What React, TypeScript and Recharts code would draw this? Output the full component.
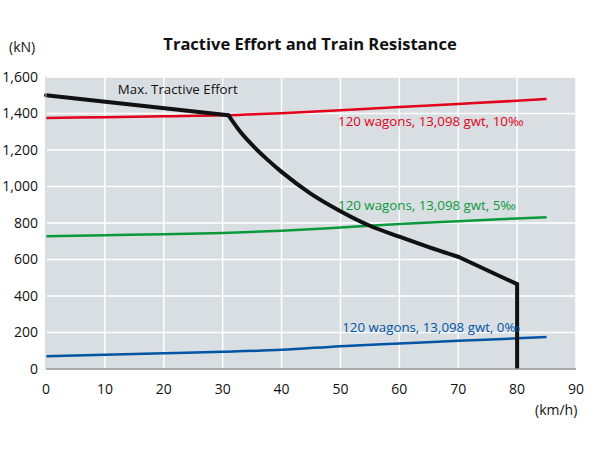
import React from 'react';
import { LineChart, Line, XAxis, YAxis, CartesianGrid, ReferenceDot } from 'recharts';

// speed in km/h, force in kN
const speedTicks = [0, 10, 20, 30, 40, 50, 60, 70, 80, 90];
const forceTicks = [0, 200, 400, 600, 800, 1000, 1200, 1400, 1600];

// max tractive effort: constant part, hyperbolic part, limit at 80 km/h
const constSpeed = [0, 31];
const constForce = [1500, 1390];
const curveSpeed = [31, 33, 35, 37.5, 40, 45, 50, 55, 60, 65, 70];
const curveForce = [1390, 1300, 1228, 1150, 1080, 960, 865, 785, 725, 668, 615];
const limitSpeed = [70, 80, 80];
const limitForce = [615, 465, 0];

const resistanceSpeed = [0, 10, 20, 30, 40, 50, 60, 70, 80, 85];
const resistance10 = [1375, 1380, 1385, 1390, 1402, 1418, 1435, 1452, 1470, 1480];
const resistance5 = [728, 733, 738, 745, 757, 775, 795, 810, 825, 832];
const resistance0 = [70, 78, 86, 94, 105, 125, 140, 155, 168, 176];

const FONT = '"Open Sans", "Noto Sans", sans-serif';

const toPoints = (xs: number[], ys: number[]) => xs.map((x, i) => ({ speed: x, force: ys[i] }));

const red = toPoints(resistanceSpeed, resistance10);
const green = toPoints(resistanceSpeed, resistance5);
const blue = toPoints(resistanceSpeed, resistance0);

const blackLine = { stroke: '#111', strokeWidth: 4, strokeLinecap: 'round' as const, strokeLinejoin: 'round' as const, dot: false, isAnimationActive: false };

const App: React.FC = () => {
  return (
    <div style={{ position: 'absolute', left: 0, top: 0, width: 600, height: 451, background: '#fff', fontFamily: FONT }}>
      <div style={{ position: 'absolute', left: 0, width: 620, top: 32, textAlign: 'center', fontSize: 16.5, fontWeight: 700, color: '#111' }}>
        Tractive Effort and Train Resistance
      </div>
      <div style={{ position: 'absolute', left: 9, top: 37, fontSize: 14, color: '#111' }}>(kN)</div>
      <div style={{ position: 'absolute', left: 535, top: 400, fontSize: 14, color: '#111' }}>(km/h)</div>
      <LineChart width={600} height={451} margin={{ top: 77, right: 24, left: 0, bottom: 52 }}>
        <CartesianGrid fill="#d9dee2" stroke="#ffffff" strokeWidth={1.5} horizontalValues={forceTicks} verticalValues={speedTicks} />
        <XAxis
          type="number"
          dataKey="speed"
          domain={[0, 90]}
          ticks={speedTicks}
          height={30}
          tickLine={false}
          tickSize={0}
          tickMargin={15}
          axisLine={{ stroke: '#8a9299', strokeWidth: 1.5 }}
          tick={{ fontSize: 14, fill: '#111', fontFamily: FONT }}
          allowDuplicatedCategory={false}
        />
        <YAxis
          type="number"
          dataKey="force"
          domain={[0, 1600]}
          ticks={forceTicks}
          width={46}
          tickLine={false}
          tickSize={0}
          tickMargin={8}
          axisLine={{ stroke: '#b7c0c8', strokeWidth: 1 }}
          tick={{ fontSize: 14, fill: '#111', fontFamily: FONT }}
          tickFormatter={(v: number) => v.toLocaleString('en-US')}
        />
        <Line data={red} dataKey="force" type="monotone" stroke="#e2001a" strokeWidth={2.5} dot={false} isAnimationActive={false} />
        <Line data={green} dataKey="force" type="monotone" stroke="#0a9a3c" strokeWidth={2.5} dot={false} isAnimationActive={false} />
        <Line data={blue} dataKey="force" type="monotone" stroke="#0055a4" strokeWidth={2.5} dot={false} isAnimationActive={false} />
        <Line data={toPoints(constSpeed, constForce)} dataKey="force" type="linear" {...blackLine} />
        <Line data={toPoints(curveSpeed, curveForce)} dataKey="force" type="monotone" {...blackLine} />
        <Line data={toPoints(limitSpeed, limitForce)} dataKey="force" type="linear" {...blackLine} strokeLinecap="butt" strokeLinejoin="miter" />
        <ReferenceDot x={12.2} y={1532} r={0} stroke="none" fill="none"
          label={{ value: 'Max. Tractive Effort', position: 'right', offset: 0, fill: '#111', fontSize: 13.3, fontFamily: FONT }} />
        <ReferenceDot x={49.6} y={1355} r={0} stroke="none" fill="none"
          label={{ value: '120 wagons, 13,098 gwt, 10‰', position: 'right', offset: 0, fill: '#e2001a', fontSize: 13.3, fontFamily: FONT }} />
        <ReferenceDot x={49.6} y={899} r={0} stroke="none" fill="none"
          label={{ value: '120 wagons, 13,098 gwt, 5‰', position: 'right', offset: 0, fill: '#0a9a3c', fontSize: 13.3, fontFamily: FONT }} />
        <ReferenceDot x={50.3} y={230} r={0} stroke="none" fill="none"
          label={{ value: '120 wagons, 13,098 gwt, 0‰', position: 'right', offset: 0, fill: '#0055a4', fontSize: 13.3, fontFamily: FONT }} />
      </LineChart>
    </div>
  );
};

export default App;
